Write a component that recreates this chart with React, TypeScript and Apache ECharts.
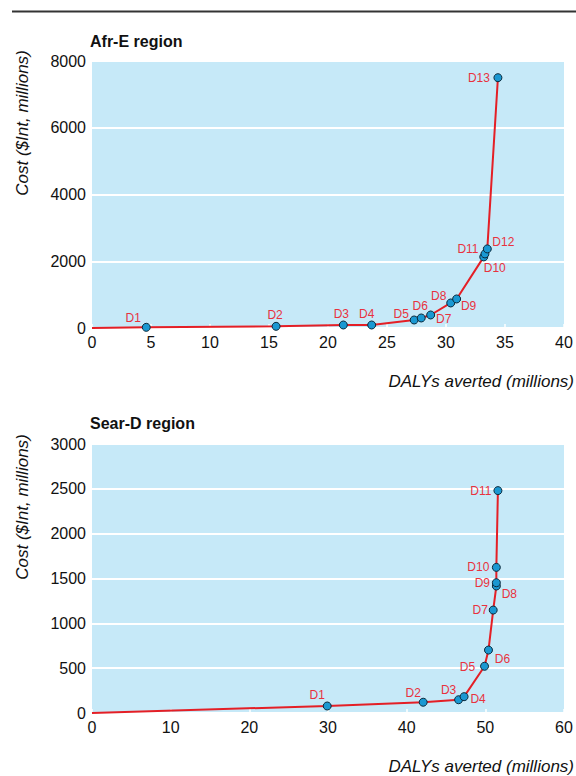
import React, { useEffect, useRef } from "react";
import * as echarts from "echarts";

// Afr-E region
const afrLabels = ["D1", "D2", "D3", "D4", "D5", "D6", "D7", "D8", "D9", "D10", "D11", "D12", "D13"];
const afrDalys = [4.6, 15.6, 21.3, 23.7, 27.3, 27.9, 28.7, 30.4, 30.9, 33.2, 33.3, 33.5, 34.4];
const afrCost = [20, 50, 90, 90, 240, 300, 390, 750, 870, 2130, 2220, 2370, 7500];

// Sear-D region
const searLabels = ["D1", "D2", "D3", "D4", "D5", "D6", "D7", "D8", "D9", "D10", "D11"];
const searDalys = [29.9, 42.1, 46.6, 47.3, 49.9, 50.4, 51.0, 51.4, 51.4, 51.4, 51.6];
const searCost = [78, 120, 148, 182, 521, 702, 1148, 1416, 1453, 1624, 2480];

// label offsets (px) relative to each point
const afrLabelOffsets = [
  [-13, -9], [-1, -11], [-2, -11], [-5, -11], [-13, -6], [-1, -12], [13, 4],
  [-12, -7], [12, 7], [11, 11], [-17, -5], [16, -7], [-19, 0],
];
const searLabelOffsets = [
  [-10, -11], [-10, -9], [-10, -10], [14, 2], [-17, 1], [14, 9], [-13, 0],
  [13, 8], [-14, 0], [-18, 0], [-17, 0],
];

const FONT = "'Liberation Sans', Arial, sans-serif";
const RED = "#e41f26";
const LABEL_RED = "#e8323e";
const BG = "#c6e9f8";

function buildData(xs: number[], ys: number[], labels: string[], offsets: number[][]) {
  const out: any[] = [
    { value: [0, 0], symbol: "none", label: { show: false } },
  ];
  xs.forEach((x, i) => {
    out.push({
      value: [x, ys[i]],
      name: labels[i],
      label: {
        show: true,
        position: "inside",
        offset: offsets[i],
        formatter: labels[i],
        color: LABEL_RED,
        fontSize: 12,
        fontFamily: FONT,
        align: "center",
        verticalAlign: "middle",
      },
    });
  });
  return out;
}

export default function App() {
  const ref = useRef<HTMLDivElement>(null);
  useEffect(() => {
    if (!ref.current) return;
    const chart = echarts.init(ref.current, null, { renderer: "svg" });
    const xAxisCommon = {
      type: "value",
      axisLine: { show: false },
      axisTick: { show: true, inside: true, length: 4, lineStyle: { color: "#ffffff", width: 1.5 } },
      axisLabel: { color: "#111", fontSize: 16, fontFamily: FONT, margin: 6, formatter: (v: number) => String(v) },
      splitLine: { show: false },
    };
    const yAxisCommon = {
      type: "value",
      axisLine: { show: false },
      axisTick: { show: false },
      axisLabel: { color: "#111", fontSize: 16, fontFamily: FONT, margin: 6, formatter: (v: number) => String(v) },
      splitLine: { show: true, lineStyle: { color: "#ffffff", width: 2 } },
    };
    const seriesCommon = {
      type: "line",
      symbol: "circle",
      symbolSize: 8,
      lineStyle: { color: RED, width: 2 },
      itemStyle: { color: "#1a98d2", borderColor: "#0b2a3c", borderWidth: 1 },
      z: 3,
    };
    chart.setOption({
      animation: false,
      grid: [
        { left: 92, right: 12, top: 61, height: 267, show: true, backgroundColor: BG, borderWidth: 0 },
        { left: 92, right: 12, top: 444, height: 269, show: true, backgroundColor: BG, borderWidth: 0 },
      ],
      title: [
        { text: "Afr-E region", left: 90, top: 33, textStyle: { fontFamily: FONT, fontSize: 16, fontWeight: "bold", color: "#111" }, padding: 0 },
        { text: "Sear-D region", left: 90, top: 415, textStyle: { fontFamily: FONT, fontSize: 16, fontWeight: "bold", color: "#111" }, padding: 0 },
      ],
      xAxis: [
        { ...xAxisCommon, gridIndex: 0, min: 0, max: 40, interval: 5 },
        { ...xAxisCommon, gridIndex: 1, min: 0, max: 60, interval: 10 },
      ],
      yAxis: [
        { ...yAxisCommon, gridIndex: 0, min: 0, max: 8000, interval: 2000 },
        { ...yAxisCommon, gridIndex: 1, min: 0, max: 3000, interval: 500 },
      ],
      series: [
        { ...seriesCommon, xAxisIndex: 0, yAxisIndex: 0, data: buildData(afrDalys, afrCost, afrLabels, afrLabelOffsets) },
        { ...seriesCommon, xAxisIndex: 1, yAxisIndex: 1, data: buildData(searDalys, searCost, searLabels, searLabelOffsets) },
      ],
      graphic: [
        { type: "line", shape: { x1: 12, y1: 11.5, x2: 576, y2: 11.5 }, style: { stroke: "#333", lineWidth: 2 } },
        {
          type: "text", x: 22, y: 123, rotation: Math.PI / 2,
          style: { text: "Cost ($Int, millions)", fontFamily: FONT, fontSize: 17, fontStyle: "italic", fill: "#111", align: "center", verticalAlign: "middle" },
        },
        {
          type: "text", x: 22, y: 507, rotation: Math.PI / 2,
          style: { text: "Cost ($Int, millions)", fontFamily: FONT, fontSize: 17, fontStyle: "italic", fill: "#111", align: "center", verticalAlign: "middle" },
        },
        {
          type: "text", x: 574, y: 381,
          style: { text: "DALYs averted (millions)", fontFamily: FONT, fontSize: 17, fontStyle: "italic", fill: "#111", align: "right", verticalAlign: "middle" },
        },
        {
          type: "text", x: 574, y: 766,
          style: { text: "DALYs averted (millions)", fontFamily: FONT, fontSize: 17, fontStyle: "italic", fill: "#111", align: "right", verticalAlign: "middle" },
        },
      ],
    });
    return () => chart.dispose();
  }, []);
  return <div ref={ref} style={{ position: "absolute", left: 0, top: 0, width: 576, height: 776 }} />;
}
